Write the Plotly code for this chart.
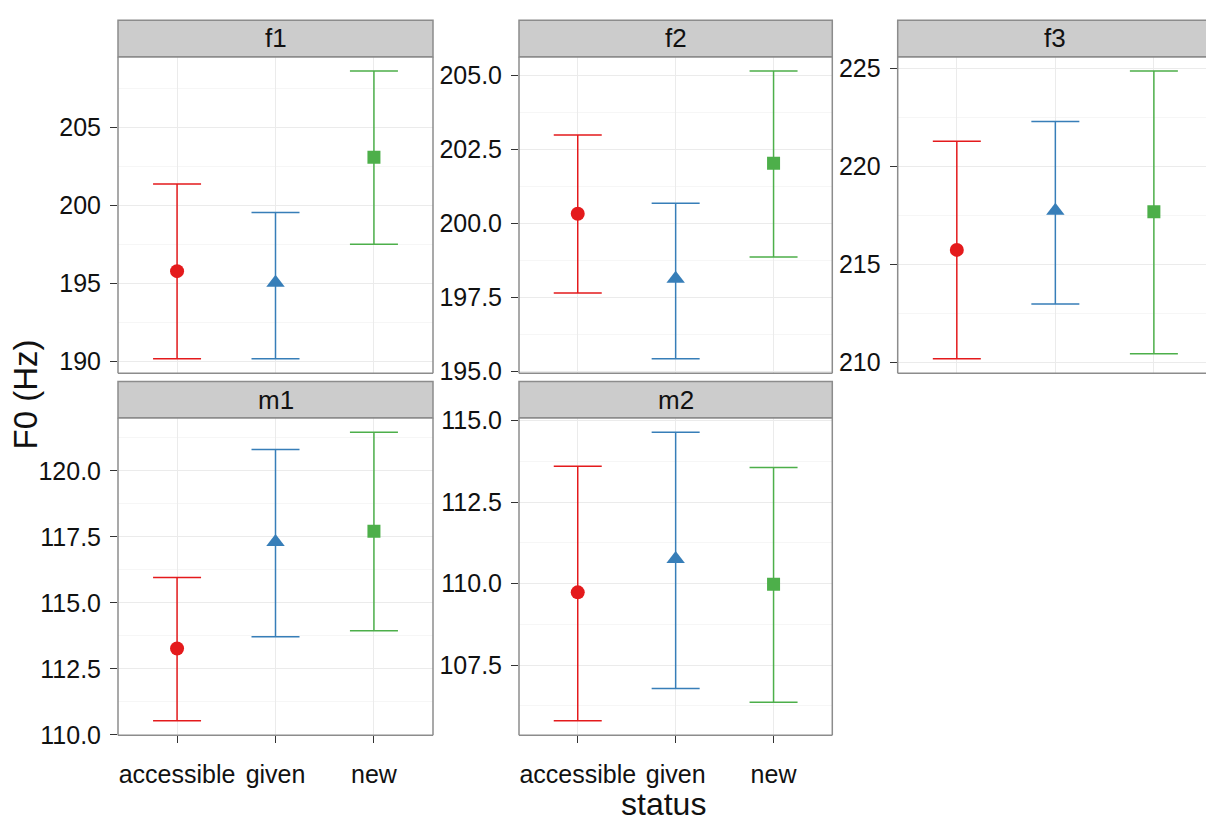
import plotly.graph_objects as go

# F0 means with interval bounds per information status, one facet per speaker
statuses = ["accessible", "given", "new"]
speakers = ["f1", "f2", "f3", "m1", "m2"]

f1_mean = [195.80, 195.05, 203.10]
f1_low = [190.19, 190.19, 197.52]
f1_high = [201.39, 199.56, 208.62]

f2_mean = [200.32, 198.12, 202.02]
f2_low = [197.64, 195.42, 198.86]
f2_high = [202.98, 200.67, 205.14]

f3_mean = [215.74, 217.74, 217.68]
f3_low = [210.19, 212.98, 210.44]
f3_high = [221.28, 222.29, 224.86]

m1_mean = [113.27, 117.30, 117.71]
m1_low = [110.53, 113.71, 113.94]
m1_high = [115.96, 120.81, 121.46]

m2_mean = [109.73, 110.75, 109.98]
m2_low = [105.79, 106.78, 106.36]
m2_high = [113.60, 114.64, 113.56]

# y tick step per facet, and tick label formats
tick_step = [5, 2.5, 5, 2.5, 2.5]
tick_format = ["d", ".1f", "d", ".1f", ".1f"]

means = [f1_mean, f2_mean, f3_mean, m1_mean, m2_mean]
lows = [f1_low, f2_low, f3_low, m1_low, m2_low]
highs = [f1_high, f2_high, f3_high, m1_high, m2_high]

colors = ["#E41A1C", "#377EB8", "#4DAF4A"]
symbols = ["circle", "triangle-up", "square"]
sizes = [14, 16, 13]

W, H = 1206, 824
FONT = "Liberation Sans, Arial, sans-serif"
BORDER = "#8C8C8C"

# panel boxes in pixels: columns (left, right), rows (top, bottom)
cols = [(118, 433), (519, 832.3), (897.7, 1213)]
rows = [(47, 373), (419, 746)]
STRIP_H = 37.5


def px(x):
    return x / W


def py(y):
    return 1 - y / H


fig = go.Figure()
shapes = []
annotations = []

for i, spk in enumerate(speakers):
    r, c = divmod(i, 3)
    left, right = cols[c]
    top, bottom = rows[r]
    shown_right = min(right, W)
    n = i + 1
    xa = "x" if n == 1 else f"x{n}"
    ya = "y" if n == 1 else f"y{n}"

    for j, st in enumerate(statuses):
        m = means[i][j]
        fig.add_trace(go.Scatter(
            x=[st], y=[m],
            mode="markers",
            marker=dict(color=colors[j], symbol=symbols[j], size=sizes[j],
                        line=dict(width=0)),
            error_y=dict(type="data", symmetric=False,
                         array=[highs[i][j] - m], arrayminus=[m - lows[i][j]],
                         color=colors[j], thickness=1.5, width=24),
            xaxis=xa, yaxis=ya, showlegend=False, name=st,
        ))

    # discrete x scale expanded by 0.6 on each side
    x_end = -0.6 + 3.2 * (shown_right - left) / (right - left)
    lo = min(lows[i])
    hi = max(highs[i])
    pad = 0.05 * (hi - lo)
    bottom_row = (r == 1)

    fig.layout[f"xaxis{'' if n == 1 else n}"] = dict(
        domain=[px(left), px(shown_right)],
        anchor=ya,
        type="category",
        categoryorder="array", categoryarray=statuses,
        range=[-0.6, x_end],
        showgrid=True, gridcolor="#EBEBEB", gridwidth=1.2,
        showline=False, zeroline=False,
        showticklabels=bottom_row,
        ticks="outside" if bottom_row else "",
        ticklen=7, tickwidth=1, tickcolor="#333333",
        ticklabelstandoff=10,
        tickfont=dict(family=FONT, size=25, color="#111111"),
        fixedrange=True,
    )
    fig.layout[f"yaxis{'' if n == 1 else n}"] = dict(
        domain=[py(bottom), py(top)],
        anchor=xa,
        range=[lo - pad, hi + pad],
        tick0=0, dtick=tick_step[i], tickformat=tick_format[i],
        showgrid=True, gridcolor="#EBEBEB", gridwidth=1.2,
        minor=dict(dtick=tick_step[i] / 2, showgrid=True,
                   gridcolor="#F6F6F6", gridwidth=1),
        showline=False, zeroline=False,
        ticks="outside", ticklen=7, tickwidth=1, tickcolor="#333333",
        ticklabelstandoff=4,
        tickfont=dict(family=FONT, size=25, color="#111111"),
        fixedrange=True,
    )

    # panel border (right side falls outside the page for the last column)
    edges = [(left, top, shown_right, top), (left, bottom, shown_right, bottom),
             (left, top, left, bottom)]
    if right <= W:
        edges.append((right, top, right, bottom))
    for x0, y0, x1, y1 in edges:
        shapes.append(dict(type="line", xref="paper", yref="paper",
                           x0=px(x0), y0=py(y0), x1=px(x1), y1=py(y1),
                           line=dict(color=BORDER, width=1.5), layer="above"))

    # facet strip
    shapes.append(dict(type="rect", xref="paper", yref="paper",
                       x0=px(left), x1=px(shown_right + (3 if right > W else 0)),
                       y0=py(top), y1=py(top - STRIP_H),
                       fillcolor="#CCCCCC", line=dict(color=BORDER, width=1.5),
                       layer="above"))
    annotations.append(dict(text=spk, xref="paper", yref="paper",
                            x=px((left + right) / 2), y=py(top - STRIP_H / 2),
                            showarrow=False, xanchor="center", yanchor="middle",
                            font=dict(family=FONT, size=26, color="#111111")))

annotations.append(dict(text="F0 (Hz)", xref="paper", yref="paper",
                        x=px(25), y=py(395), textangle=-90, showarrow=False,
                        xanchor="center", yanchor="middle",
                        font=dict(family=FONT, size=33, color="#111111")))
annotations.append(dict(text="status", xref="paper", yref="paper",
                        x=px(663), y=0, yshift=-12, showarrow=False,
                        xanchor="center", yanchor="bottom", borderpad=0,
                        font=dict(family=FONT, size=32, color="#111111")))

fig.update_layout(
    width=W, height=H,
    margin=dict(l=0, r=0, t=0, b=0),
    paper_bgcolor="white", plot_bgcolor="white",
    shapes=shapes, annotations=annotations,
    showlegend=False,
    font=dict(family=FONT),
)

fig.write_html("out.html")
